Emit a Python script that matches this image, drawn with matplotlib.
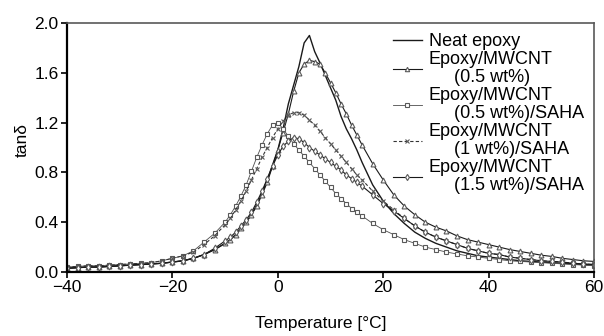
import matplotlib
matplotlib.use("Agg")
import matplotlib.pyplot as plt

plt.rcParams['font.family'] = ['Liberation Sans', 'DejaVu Sans']

temperature = [-40, -38, -36, -34, -32, -30, -28, -26, -24, -22, -20, -18, -16, -14, -12, -10,
               -9, -8, -7, -6, -5, -4, -3, -2, -1, 0, 1, 2, 3, 4, 5, 6, 7, 8, 9, 10, 11, 12, 13, 14, 15, 16,
               18, 20, 22, 24, 26, 28, 30, 32, 34, 36, 38, 40, 42, 44, 46, 48, 50, 52, 54, 56, 58, 60]

neat = [0.03, 0.035, 0.04, 0.04, 0.045, 0.05, 0.055, 0.06, 0.065, 0.07, 0.08, 0.09, 0.11, 0.14, 0.18, 0.23,
        0.26, 0.30, 0.35, 0.40, 0.46, 0.54, 0.63, 0.74, 0.86, 0.98, 1.15, 1.35, 1.50, 1.65, 1.84, 1.90,
        1.77, 1.68, 1.58, 1.48, 1.38, 1.25, 1.15, 1.07, 0.98, 0.88,
        0.70, 0.57, 0.47, 0.39, 0.32, 0.27, 0.23, 0.20, 0.17, 0.15, 0.13, 0.12, 0.11, 0.10, 0.09, 0.085,
        0.08, 0.075, 0.07, 0.065, 0.06, 0.055]

mwcnt_05 = [0.03, 0.035, 0.04, 0.04, 0.045, 0.05, 0.055, 0.06, 0.065, 0.07, 0.08, 0.09, 0.11, 0.14, 0.18, 0.23,
            0.26, 0.30, 0.35, 0.40, 0.46, 0.53, 0.62, 0.72, 0.85, 0.98, 1.12, 1.27, 1.45, 1.60, 1.67, 1.70,
            1.69, 1.67, 1.60, 1.52, 1.44, 1.35, 1.27, 1.18, 1.10, 1.02,
            0.87, 0.74, 0.62, 0.53, 0.46, 0.40, 0.36, 0.33, 0.29, 0.26, 0.24, 0.22, 0.20, 0.18, 0.165, 0.15,
            0.135, 0.125, 0.11, 0.10, 0.09, 0.085]

saha_05 = [0.04, 0.045, 0.05, 0.05, 0.055, 0.06, 0.065, 0.07, 0.075, 0.09, 0.11, 0.13, 0.17, 0.24, 0.31, 0.40,
           0.46, 0.53, 0.61, 0.70, 0.81, 0.92, 1.02, 1.11, 1.18, 1.20, 1.15, 1.09, 1.03, 0.98, 0.93, 0.88,
           0.83, 0.78, 0.73, 0.68, 0.63, 0.59, 0.55, 0.51, 0.48, 0.45,
           0.39, 0.34, 0.30, 0.26, 0.23, 0.20, 0.18, 0.16, 0.145, 0.13, 0.12, 0.11, 0.10, 0.09, 0.085, 0.08,
           0.075, 0.07, 0.065, 0.06, 0.055, 0.05]

saha_1 = [0.04, 0.045, 0.05, 0.05, 0.055, 0.06, 0.065, 0.07, 0.075, 0.09, 0.11, 0.13, 0.16, 0.22, 0.29, 0.38,
          0.43, 0.50, 0.57, 0.65, 0.74, 0.83, 0.92, 1.00, 1.08, 1.15, 1.21, 1.26, 1.28, 1.28, 1.26, 1.22,
          1.18, 1.13, 1.08, 1.03, 0.98, 0.93, 0.88, 0.83, 0.78, 0.74,
          0.65, 0.57, 0.50, 0.43, 0.37, 0.32, 0.28, 0.25, 0.22, 0.19, 0.17, 0.15, 0.14, 0.12, 0.11, 0.10,
          0.09, 0.085, 0.08, 0.07, 0.065, 0.06]

saha_15 = [0.03, 0.035, 0.04, 0.04, 0.045, 0.05, 0.055, 0.06, 0.065, 0.07, 0.08, 0.09, 0.11, 0.14, 0.19, 0.25,
           0.28, 0.32, 0.37, 0.42, 0.48, 0.56, 0.65, 0.75, 0.85, 0.94, 1.01, 1.05, 1.08, 1.07, 1.04, 1.00,
           0.97, 0.94, 0.91, 0.88, 0.85, 0.82, 0.78, 0.75, 0.72, 0.69,
           0.62, 0.55, 0.49, 0.43, 0.37, 0.32, 0.28, 0.25, 0.22, 0.19, 0.17, 0.15, 0.14, 0.12, 0.11, 0.10,
           0.09, 0.085, 0.08, 0.07, 0.065, 0.06]

labels = ["Neat epoxy",
          "Epoxy/MWCNT\n     (0.5 wt%)",
          "Epoxy/MWCNT\n     (0.5 wt%)/SAHA",
          "Epoxy/MWCNT\n     (1 wt%)/SAHA",
          "Epoxy/MWCNT\n     (1.5 wt%)/SAHA"]
x_ticks = [-40, -20, 0, 20, 40, 60]
y_ticks = [0.0, 0.4, 0.8, 1.2, 1.6, 2.0]

fig = plt.figure(figsize=(6.04, 3.36), dpi=100)
ax = fig.add_axes([67/604, 1 - 272/336, (594-67)/604, (272-23)/336])

line_c = '0.1'
mk = dict(mfc='white', mec='0.35', ms=3.5, mew=0.8)
ax.plot(temperature, neat, color=line_c, lw=1.0, label=labels[0])
ax.plot(temperature, mwcnt_05, color=line_c, lw=0.8, marker='^', label=labels[1], **mk)
ax.plot(temperature, saha_05, color='0.3', lw=0.6, marker='s', label=labels[2], **mk)
ax.plot(temperature, saha_1, color='0.2', lw=0.8, ls=(0, (3, 2)), marker='x', label=labels[3],
        mfc='white', mec='0.35', ms=3.5, mew=0.8)
ax.plot(temperature, saha_15, color=line_c, lw=0.8, marker='d', label=labels[4], **mk)

ax.set_xlim(-40, 60)
ax.set_ylim(0, 2.0)
ax.set_xticks(x_ticks)
ax.set_xticklabels(["\u221240", "\u221220", "0", "20", "40", "60"])
ax.set_yticks(y_ticks)
ax.set_yticklabels([f"{v:.1f}" for v in y_ticks])
ax.tick_params(direction='out', length=4, width=1.2, labelsize=12.5, top=False, right=False, pad=2)

for s in ['left', 'bottom']:
    ax.spines[s].set_linewidth(1.6)
    ax.spines[s].set_color('black')
for s in ['top', 'right']:
    ax.spines[s].set_linewidth(1.2)
    ax.spines[s].set_color('0.35')

ax.set_xlabel("Temperature [\u00b0C]", fontsize=12.5)
ax.xaxis.set_label_coords(0.482, -0.175)
ax.set_ylabel("tan\u03b4", fontsize=12.5)
ax.yaxis.set_label_coords(-0.07, 0.53)

leg = ax.legend(loc='upper right', frameon=False, fontsize=13, handlelength=1.6,
                handletextpad=0.4, labelspacing=0.06, borderaxespad=0.15,
                bbox_to_anchor=(1.0, 1.0), markerscale=0.9)
for t in leg.get_texts():
    t.set_linespacing(1.08)

fig.savefig("out.png", dpi=100)
